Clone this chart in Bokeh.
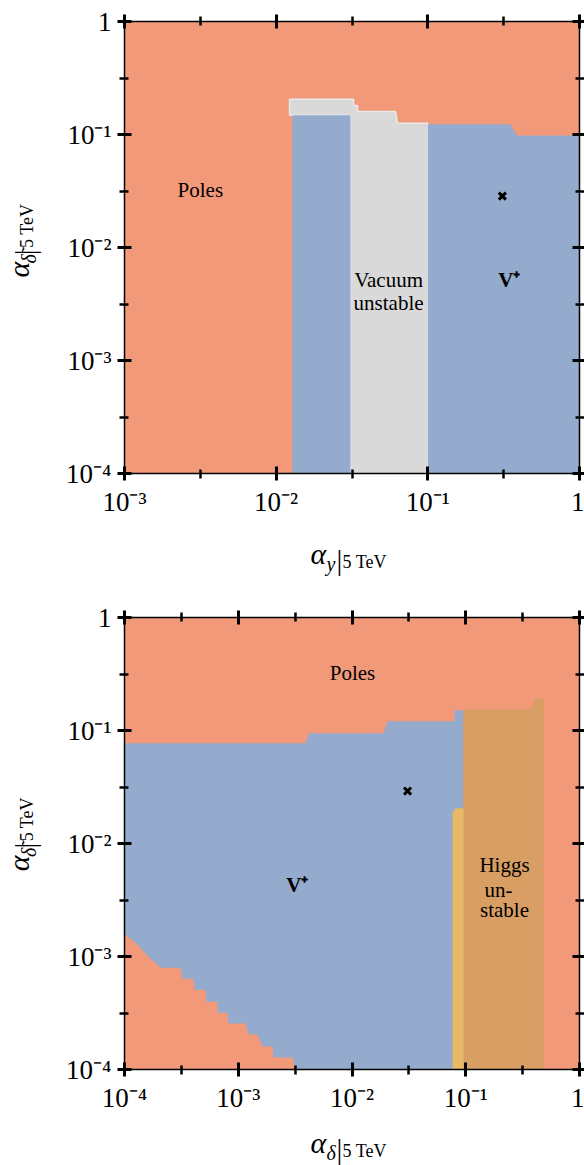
import math
from bokeh.plotting import figure
from bokeh.models import (Range1d, FixedTicker, CustomJSTickFormatter, LogAxis, Label, AllLabels)
from bokeh.layouts import column, row
from bokeh.embed import file_html
from bokeh.resources import INLINE

# ---------------- data ----------------
major_ticks = [1e-4, 1e-3, 1e-2, 1e-1, 1.0]
minor_ticks = [10 ** -3.5, 10 ** -2.5, 10 ** -1.5, 10 ** -0.5]

# Top panel: x = alpha_y, y = alpha_delta~
top_xrange = (1e-3, 1.0)
top_yrange = (1e-4, 1.0)
top_vac_x = [0.0309, 0.1, 0.1, 0.0631, 0.0612, 0.0344, 0.0344, 0.0324, 0.0324, 0.01225, 0.01225, 0.0309]
top_vac_y = [1e-4, 1e-4, 0.126, 0.126, 0.160, 0.160, 0.181, 0.181, 0.205, 0.205, 0.148, 0.148]
top_vplus1_x = [0.0128, 0.0309, 0.0309, 0.0128]
top_vplus1_y = [1e-4, 1e-4, 0.148, 0.148]
top_vplus2_x = [0.1, 1.0, 1.0, 0.39, 0.37, 0.35, 0.1]
top_vplus2_y = [1e-4, 1e-4, 0.098, 0.098, 0.108, 0.123, 0.123]
top_point = (0.31, 0.0285)

# Bottom panel: x = alpha_delta, y = alpha_delta~
bot_xrange = (1e-4, 1.0)
bot_yrange = (1e-4, 1.0)
bot_vplus_x = [1e-4, 1.30e-4, 1.625e-4, 2.07e-4, 3.10e-4, 3.23e-4, 4.04e-4, 4.12e-4,
               5.15e-4, 5.26e-4, 6.58e-4, 6.58e-4, 8.04e-4, 8.20e-4, 1.158e-3, 1.23e-3,
               1.476e-3, 1.63e-3, 2.0e-3, 2.04e-3, 3.0e-3, 3.18e-3, 3.25e-3,
               0.0955, 0.0955, 0.0796, 0.0796, 0.0205, 0.0189, 0.00415, 0.0039, 1e-4]
bot_vplus_y = [1.589e-3, 1.27e-3, 9.95e-4, 7.96e-4, 7.96e-4, 6.37e-4, 6.37e-4, 5.09e-4,
               5.09e-4, 3.98e-4, 3.98e-4, 3.18e-4, 3.18e-4, 2.55e-4, 2.55e-4, 2.04e-4,
               2.04e-4, 1.596e-4, 1.596e-4, 1.277e-4, 1.277e-4, 1.04e-4, 1e-4,
               1e-4, 0.151, 0.151, 0.1207, 0.1207, 0.0946, 0.0946, 0.0772, 0.0772]
bot_higgs_x = [0.0955, 0.483, 0.483, 0.41, 0.395, 0.386, 0.0955]
bot_higgs_y = [1e-4, 1e-4, 0.193, 0.193, 0.185, 0.154, 0.154]
bot_yellow_x = [0.0766, 0.0955, 0.0955, 0.081, 0.0766]
bot_yellow_y = [1e-4, 1e-4, 0.0205, 0.0205, 0.0185]
bot_point = (0.0308, 0.0291)

SALMON = "#F2997A"
BLUE = "#95ABCD"
GRAY = "#D9D9D9"
BROWN = "#D89E64"
YELLOW = "#EAB966"
FONT = "Liberation Serif"

FMT = """
const e = Math.round(Math.log10(tick));
if (e === 0) { return "1"; }
const sup = {"-": "\\u207B", "0": "\\u2070", "1": "\\u00B9", "2": "\\u00B2", "3": "\\u00B3", "4": "\\u2074", "5": "\\u2075"};
let s = "10";
for (const c of String(e)) { s += sup[c]; }
return s;
"""


def style_axis(ax, labels, out=7):
    ax.ticker = FixedTicker(ticks=major_ticks, minor_ticks=minor_ticks)
    ax.major_label_policy = AllLabels()
    ax.axis_line_color = "black"
    ax.axis_line_width = 1.5
    ax.major_tick_in = 7
    ax.major_tick_out = out
    ax.major_tick_line_width = 3
    ax.major_tick_line_color = "black"
    ax.minor_tick_in = 4
    ax.minor_tick_out = min(5, out)
    ax.minor_tick_line_width = 2.5
    ax.minor_tick_line_color = "black"
    ax.major_label_text_font = FONT
    ax.major_label_text_color = "black"
    ax.major_label_text_font_size = "27px"
    if labels:
        ax.formatter = CustomJSTickFormatter(code=FMT)
        ax.major_label_standoff = 6
    else:
        ax.formatter = CustomJSTickFormatter(code='return "";')
        ax.major_label_standoff = 0


def make_fig(xr, yr, width, height, top_b, bot_b, left_b):
    p = figure(width=width, height=height, x_axis_type="log", y_axis_type="log",
               x_range=Range1d(*xr), y_range=Range1d(*yr),
               output_backend="svg", toolbar_location=None,
               min_border_left=left_b, min_border_right=0,
               min_border_top=top_b, min_border_bottom=bot_b,
               background_fill_color=SALMON, border_fill_color="white",
               outline_line_color=None)
    p.grid.visible = False
    p.add_layout(LogAxis(), "above")
    p.add_layout(LogAxis(), "right")
    style_axis(p.below[0], True)
    style_axis(p.left[0], True)
    style_axis(p.above[0], False)
    style_axis(p.right[0], False, out=5)
    return p


def text_fig(w, h):
    f = figure(width=w, height=h, x_range=Range1d(0, w), y_range=Range1d(h, 0),
               output_backend="svg", toolbar_location=None, min_border=0,
               x_axis_location=None, y_axis_location=None, outline_line_color=None,
               background_fill_color="white", border_fill_color="white")
    f.grid.visible = False
    return f


def lab(p, text, x, y, size, style="normal", align="left", baseline="middle", angle=0.0):
    p.add_layout(Label(x=x, y=y, text=text, text_font=FONT, text_font_size=size,
                       text_font_style=style, text_align=align, text_baseline=baseline,
                       angle=angle, text_color="black"))


def ylabel_fig(h, cy):
    f = text_fig(45, h)
    a = math.pi / 2
    lab(f, "\u03B1", 18, cy + 46, "30px", "italic", angle=a)
    lab(f, "\u03B4\u0303", 28, cy + 30, "20px", "italic", angle=a)
    lab(f, "|", 24, cy + 17, "29px", align="center", angle=a)
    lab(f, "5 TeV", 26, cy + 12, "18px", angle=a)
    return f


def xlabel_fig(h, mid, sub):
    f = text_fig(584, h)
    lab(f, "\u03B1", 310, mid, "30px", "italic")
    lab(f, sub, 326, mid + 10, "20px", "italic")
    lab(f, "|", 339, mid + 6, "29px", align="center")
    lab(f, "5 TeV", 342, mid + 8, "18px")
    return f


# ---------------- top panel ----------------
p1 = make_fig(top_xrange, top_yrange, 539, 519, 21, 45, 79)
p1.patch(top_vac_x, top_vac_y, fill_color=GRAY, line_color="#E9E9E9", line_width=1.5)
p1.patch(top_vplus1_x, top_vplus1_y, fill_color=BLUE, line_color=None)
p1.patch(top_vplus2_x, top_vplus2_y, fill_color=BLUE, line_color=None)
p1.scatter([top_point[0]], [top_point[1]], marker="x", size=10, line_width=3, color="black")
for t, x, y, st in [("Poles", 10 ** -2.5, 0.0322, "normal"),
                    ("Vacuum", 0.0551, 5.16e-3, "normal"),
                    ("unstable", 0.0551, 3.24e-3, "normal"),
                    ("V\u207A", 0.345, 5.16e-3, "bold")]:
    lab(p1, t, x, y, "21px", st, align="center")

yl1 = ylabel_fig(519, 248)
xl1 = xlabel_fig(81, 34, "y")

# ---------------- bottom panel ----------------
p2 = make_fig(bot_xrange, bot_yrange, 539, 515, 17, 45, 79)
p2.patch(bot_vplus_x, bot_vplus_y, fill_color=BLUE, line_color=None)
p2.patch(bot_higgs_x, bot_higgs_y, fill_color=BROWN, line_color=None)
p2.patch(bot_yellow_x, bot_yellow_y, fill_color=YELLOW, line_color=None)
p2.scatter([bot_point[0]], [bot_point[1]], marker="x", size=10, line_width=3, color="black")
for t, x, y, st in [("Poles", 0.0101, 0.32, "normal"),
                    ("V\u207A", 3.3e-3, 4.3e-3, "bold"),
                    ("Higgs", 0.219, 6.46e-3, "normal"),
                    ("un-", 0.194, 3.88e-3, "normal"),
                    ("stable", 0.219, 2.59e-3, "normal")]:
    lab(p2, t, x, y, "21px", st, align="center")

yl2 = ylabel_fig(515, 243)
xl2 = xlabel_fig(50, 27, "\u03B4")

layout = column(row(yl1, p1, spacing=0), xl1, row(yl2, p2, spacing=0), xl2, spacing=0)
open("out.html", "w").write(file_html(layout, INLINE))
